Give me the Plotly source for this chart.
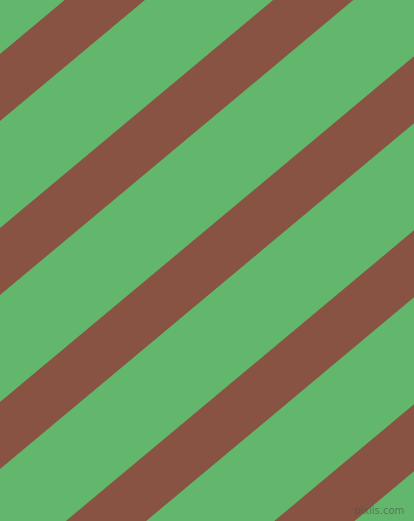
import plotly.graph_objects as go

W, H = 414, 521

GREEN = "#63B76C"
BROWN = "#885342"

# y of each stripe's upper edge where it meets the left side (pixels, y down)
stripe_tops = [-120, 54, 228, 402, 576, 750]
stripe_thickness = 67   # vertical thickness of a stripe
stripe_slope = 0.835    # rise per pixel going right

fig = go.Figure()

for top in stripe_tops:
    bottom = top + stripe_thickness
    xs = [0, W, W, 0, 0]
    ys = [top, top - stripe_slope * W, bottom - stripe_slope * W, bottom, top]
    fig.add_trace(go.Scatter(
        x=xs, y=ys, mode="lines", fill="toself",
        fillcolor=BROWN, line=dict(width=0, color=BROWN),
        hoverinfo="skip", showlegend=False,
    ))

# little watermark bottom right
fig.add_annotation(
    x=406, y=518, xref="x", yref="y",
    xanchor="right", yanchor="bottom",
    text="pixlis.com", showarrow=False,
    font=dict(family="DejaVu Sans", size=10, color="rgba(70,85,70,0.65)"),
)

fig.update_xaxes(range=[0, W], visible=False, fixedrange=True)
fig.update_yaxes(range=[H, 0], visible=False, fixedrange=True)
fig.update_layout(
    width=W, height=H,
    margin=dict(l=0, r=0, t=0, b=0),
    paper_bgcolor=GREEN, plot_bgcolor=GREEN,
)

# browser puts 8px around the body by default, drop it so the chart fills the window
fig.write_html(
    "out.html",
    config={"displayModeBar": False},
    post_script="document.body.style.margin='0';",
)
